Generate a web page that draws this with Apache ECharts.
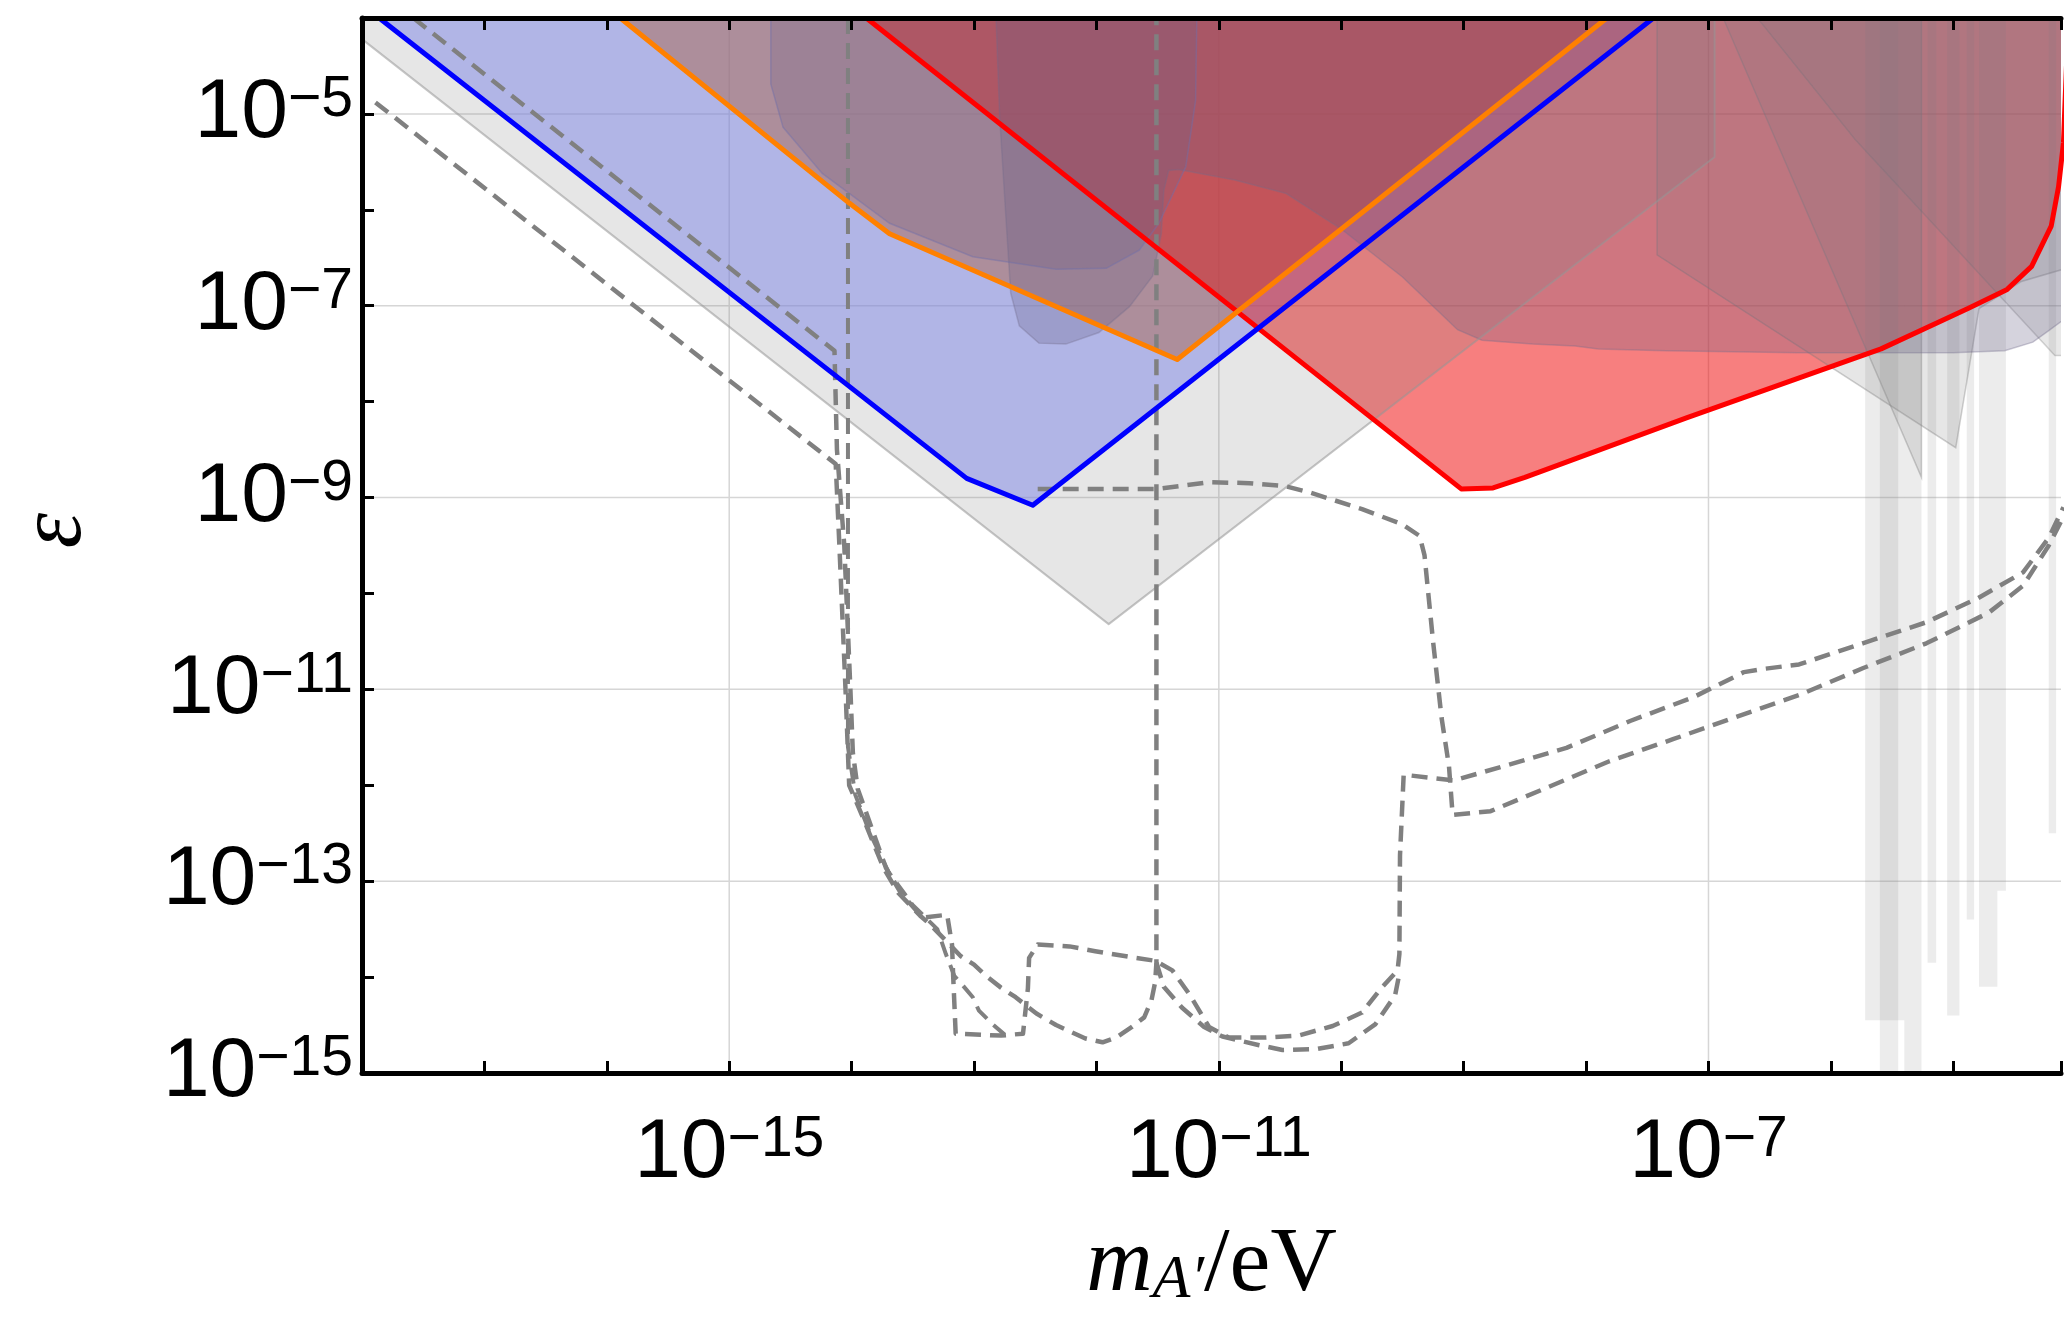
<!DOCTYPE html>
<html>
<head>
<meta charset="utf-8">
<script src="https://cdn.jsdelivr.net/npm/echarts@6/dist/echarts.min.js"></script>
<style>
html,body{margin:0;padding:0;background:#fff;}
#chart{width:2064px;height:1317px;}
</style>
</head>
<body>
<div id="chart"></div>
<script>
// All coordinates are log10 values: x = log10(m_A'/eV), y = log10(epsilon)
const X_MIN = -18, X_MAX = -4.12, Y_MIN = -15, Y_MAX = -4;
const xLabelExps = [-15, -11, -7];
const yLabelExps = [-15, -13, -11, -9, -7, -5];
const xGridExps = [-15, -11, -7];
const yGridExps = [-13, -11, -9, -7, -5];

// light gray wedge (existing bound)
const grayV = [[-18,-4],[-18,-4.22],[-11.9,-10.32],[-6.95,-5.45],[-6.95,-4]];
// other gray bounds at high mass
const grayT1 = [[-6.88,-4],[-5.26,-8.79],[-5.26,-4]];
const grayG4 = [[-7.42,-4],[-7.42,-6.47],[-4.98,-8.48],[-4.79,-7.03],[-4.45,-6.75],[-4.05,-6.6],[-4.05,-4]];
const grayG5 = [[-6.6,-4],[-5.8,-5.27],[-4.17,-7.52],[-4.05,-7.52],[-4.05,-4]];
// narrow vertical gray bounds: [xLeft, xRight, yBottom]
const grayBars = [
  [-5.72,-5.40,-14.45],[-5.60,-5.45,-15],[-5.40,-5.26,-15],[-5.21,-5.14,-13.85],
  [-5.05,-4.95,-14.4],[-4.89,-4.83,-13.4],[-4.79,-4.64,-14.1],[-4.64,-4.57,-13.1],
  [-4.22,-4.16,-12.5]
];
// big gray/purple bound with tongue
const grayTop = [[-12.82,-4],[-12.79,-5.04],[-12.74,-6.07],[-12.70,-6.87],[-12.63,-7.21],[-12.47,-7.39],
  [-12.25,-7.40],[-11.98,-7.28],[-11.73,-7.01],[-11.54,-6.69],[-11.47,-6.25],[-11.45,-5.80],[-11.41,-5.59],
  [-11.33,-5.58],[-10.87,-5.69],[-10.45,-5.83],[-10.0,-6.2],[-9.5,-6.7],[-9.05,-7.25],[-8.85,-7.36],
  [-8.44,-7.40],[-8.09,-7.42],[-7.90,-7.45],[-7.35,-7.47],[-6.27,-7.49],[-5.0,-7.49],[-4.58,-7.47],
  [-4.35,-7.38],[-4.22,-7.26],[-4.05,-7.1],[-4.05,-4]];
// elliptical purple bound
const blob1 = [[-14.66,-4],[-14.66,-4.69],[-14.56,-5.14],[-14.24,-5.62],[-13.69,-6.14],[-13.01,-6.49],
  [-12.33,-6.62],[-11.92,-6.61],[-11.65,-6.42],[-11.49,-6.14],[-11.27,-5.55],[-11.19,-4.86],[-11.18,-4]];

// coloured regions
const redRegion = [[-13.88,-4],[-9.02,-8.91],[-8.76,-8.90],[-8.5,-8.79],[-7.18,-8.17],[-5.59,-7.45],
  [-4.88,-7.03],[-4.56,-6.83],[-4.36,-6.59],[-4.20,-6.17],[-4.14,-5.76],[-4.1,-5.3],[-4.06,-4]];
const blueRegion = [[-17.86,-4],[-13.06,-8.80],[-12.52,-9.08],[-7.45,-4]];
const orangeRegion = [[-15.89,-4],[-14.02,-5.93],[-13.69,-6.25],[-11.34,-7.56],[-7.83,-4]];

// dashed projection curves
const dashA = [[-17.58,-4.0],[-14.14,-7.47],[-14.12,-8.5],[-14.06,-9.5],[-14.01,-11.0],[-13.99,-11.66],
  [-13.95,-12.04],[-13.86,-12.36],[-13.72,-12.86],[-13.60,-13.12],[-13.42,-13.38],[-13.22,-13.35],
  [-13.18,-13.66],[-13.17,-14.0],[-13.15,-14.59],[-12.78,-14.61],[-12.60,-14.59],[-12.56,-14.12],
  [-12.55,-13.8],[-12.48,-13.66],[-12.22,-13.68],[-12.01,-13.73],[-11.68,-13.80],[-11.52,-13.83],
  [-11.38,-13.93],[-11.24,-14.18],[-11.08,-14.52],[-10.92,-14.63],[-10.62,-14.63],[-10.35,-14.61],
  [-10.07,-14.51],[-9.83,-14.37],[-9.67,-14.11],[-9.54,-13.93],[-9.525,-13.76],[-9.52,-12.73],
  [-9.49,-11.89],[-9.08,-11.95],[-8.67,-11.8],[-8.16,-11.61],[-7.64,-11.33],[-7.12,-11.08],
  [-6.71,-10.82],[-6.57,-10.79],[-6.26,-10.74],[-5.74,-10.52],[-5.22,-10.3],[-4.8,-10.05],
  [-4.43,-9.78],[-4.22,-9.42],[-4.1,-9.1]];
const dashB = [[-17.89,-4.88],[-14.13,-8.65],[-14.1,-9.5],[-14.05,-11.0],[-14.02,-12.0],[-13.9,-12.36],
  [-13.74,-12.86],[-13.62,-13.12],[-13.44,-13.36],[-13.36,-13.45],[-13.23,-13.62],[-13.11,-13.78],
  [-13.0,-13.87],[-12.89,-14.0],[-12.78,-14.11],[-12.66,-14.21],[-12.56,-14.31],[-12.49,-14.38],
  [-12.33,-14.50],[-12.21,-14.57],[-12.09,-14.64],[-11.95,-14.68],[-11.84,-14.63],[-11.71,-14.52],
  [-11.61,-14.42],[-11.55,-14.24],[-11.52,-14.05],[-11.51,-13.85],[-11.51,-4.0]];
const dashC = [[-14.03,-4.0],[-14.03,-11.6],[-13.97,-12.1],[-13.85,-12.5],[-13.7,-12.9],[-13.5,-13.25],
  [-13.3,-13.5],[-13.23,-13.76],[-13.16,-13.99],[-13.09,-14.09],[-13.01,-14.21],[-12.96,-14.35],
  [-12.85,-14.49],[-12.75,-14.6]];
const dashD = [[-11.51,-13.85],[-11.45,-14.1],[-11.3,-14.32],[-11.12,-14.52],[-10.97,-14.62],
  [-10.67,-14.71],[-10.48,-14.76],[-10.2,-14.75],[-9.94,-14.69],[-9.72,-14.49],[-9.56,-14.19],[-9.52,-13.93]];
const dashE = [[-12.48,-8.91],[-12.08,-8.91],[-11.5,-8.91],[-11.08,-8.84],[-10.75,-8.85],[-10.46,-8.88],
  [-10.25,-8.95],[-9.83,-9.12],[-9.5,-9.28],[-9.36,-9.4],[-9.32,-9.6],[-9.25,-10.5],[-9.18,-11.3],
  [-9.12,-11.8],[-9.09,-12.31],[-8.78,-12.27],[-8.33,-12.03],[-7.81,-11.75],[-7.29,-11.52],
  [-6.78,-11.29],[-6.26,-11.06],[-5.74,-10.78],[-5.22,-10.52],[-4.71,-10.2],[-4.43,-9.92],
  [-4.22,-9.5],[-4.1,-9.2]];

const FONT_SANS = "'Liberation Sans', Arial, Helvetica, sans-serif";
const FONT_SERIF = "'Liberation Serif', 'Times New Roman', 'DejaVu Serif', serif";

function isInt(v){ return Math.abs(v - Math.round(v)) < 1e-6; }
function expLabel(list){
  return function(v){
    if (!isInt(v)) return '';
    const r = Math.round(v);
    return list.indexOf(r) >= 0 ? '{b|10}{s|\u2212' + Math.abs(r) + '}' : '';
  };
}
const labelRich = {
  b: {fontSize: 84, fontFamily: FONT_SANS, color: '#000', lineHeight: 84},
  s: {fontSize: 57, fontFamily: FONT_SANS, color: '#000', lineHeight: 30, verticalAlign: 'top'}
};

function polySeries(pts, fill, stroke, lw){
  return {
    type: 'custom', clip: true, silent: true, z: 2,
    data: pts,
    encode: {x: 0, y: 1},
    renderItem: function(params, api){
      if (params.dataIndex !== 0) return null;
      return {
        type: 'polygon',
        shape: {points: pts.map(function(p){ return api.coord(p); })},
        style: {fill: fill, stroke: stroke || null, lineWidth: lw || 0}
      };
    }
  };
}
function lineSeries(pts, color, width, dash, z){
  return {
    type: 'line', data: pts, showSymbol: false, symbol: 'none', silent: true,
    clip: true, z: z || 3, animation: false,
    lineStyle: {color: color, width: width, type: dash || 'solid', cap: 'butt', join: 'round'}
  };
}

const series = [];
// grid lines
series.push({
  type: 'custom', silent: true, z: 1, clip: true,
  data: xGridExps.map(function(v){ return [v]; }),
  encode: {x: 0},
  renderItem: function(params, api){
    const a = api.coord([api.value(0), Y_MIN]);
    const b = api.coord([api.value(0), Y_MAX]);
    return {type: 'line', shape: {x1: a[0], y1: a[1], x2: b[0], y2: b[1]},
      style: {stroke: '#d6d6d6', lineWidth: 1.5}};
  }
});
series.push({
  type: 'custom', silent: true, z: 1, clip: true,
  data: yGridExps.map(function(v){ return [X_MIN, v]; }),
  encode: {x: 0, y: 1},
  renderItem: function(params, api){
    const a = api.coord([X_MIN, api.value(1)]);
    const b = api.coord([X_MAX, api.value(1)]);
    return {type: 'line', shape: {x1: a[0], y1: a[1], x2: b[0], y2: b[1]},
      style: {stroke: '#d6d6d6', lineWidth: 1.5}};
  }
});
// coloured fills (drawn first, gray bounds overlay them)
series.push(polySeries(blueRegion, 'rgba(124,134,255,0.5)'));
series.push(polySeries(orangeRegion, 'rgba(180,97,70,0.5)'));
series.push(polySeries(redRegion, 'rgba(240,0,0,0.5)'));
// gray bounds
series.push(polySeries(grayV, 'rgba(128,128,128,0.2)'));
series.push(polySeries(grayT1, 'rgba(128,128,128,0.18)', 'rgba(120,120,120,0.35)', 1.5));
series.push(polySeries(grayG4, 'rgba(128,128,128,0.2)', 'rgba(120,120,120,0.35)', 1.5));
series.push(polySeries(grayG5, 'rgba(128,128,128,0.18)', 'rgba(120,120,120,0.3)', 1.5));
series.push({
  type: 'custom', silent: true, z: 2, clip: true,
  data: grayBars,
  encode: {x: [0, 1], y: 2},
  renderItem: function(params, api){
    const p0 = api.coord([api.value(0), Y_MAX]);
    const p1 = api.coord([api.value(1), api.value(2)]);
    return {type: 'rect', shape: {x: p0[0], y: p0[1], width: p1[0] - p0[0], height: p1[1] - p0[1]},
      style: {fill: 'rgba(128,128,128,0.15)'}};
  }
});
series.push(polySeries(grayTop, 'rgba(105,97,132,0.28)', 'rgba(115,110,140,0.35)', 1.5));
series.push(polySeries(blob1, 'rgba(110,95,135,0.25)', 'rgba(110,110,170,0.45)', 1.5));
// outlines
series.push(lineSeries(grayV, 'rgba(150,150,150,0.55)', 2));
const DASH = [16, 9];
series.push(lineSeries(dashC, '#808080', 4, DASH));
series.push(lineSeries(dashD, '#808080', 4.5, DASH));
series.push(lineSeries(dashB, '#808080', 4.5, DASH));
series.push(lineSeries(dashA, '#808080', 4.5, DASH));
series.push(lineSeries(dashE, '#808080', 4.5, DASH));
series.push(lineSeries(redRegion, '#ff0000', 5, 'solid', 4));
series.push(lineSeries(blueRegion, '#0000ff', 5, 'solid', 4));
series.push(lineSeries(orangeRegion, '#ff8000', 5, 'solid', 4));

const axisLineStyle = {show: true, onZero: false, lineStyle: {color: '#000', width: 5}};
const tickStyle = {show: true, inside: true, length: 12, lineStyle: {color: '#000', width: 3}};

const option = {
  animation: false,
  backgroundColor: '#ffffff',
  grid: {left: 362, top: 18, right: 0, bottom: 238, containLabel: false},
  xAxis: [
    {
      type: 'value', position: 'bottom', min: X_MIN, max: X_MAX, interval: 1, z: 10,
      axisLine: axisLineStyle, axisTick: tickStyle,
      splitLine: {show: false},
      axisLabel: {show: true, margin: 39, formatter: expLabel(xLabelExps), rich: labelRich},
      name: '{i|m}{s|A\u2032}{n|/eV}',
      nameLocation: 'middle', nameGap: 147,
      nameTextStyle: {
        rich: {
          i: {fontSize: 92, fontFamily: FONT_SERIF, fontStyle: 'italic', color: '#000', lineHeight: 92},
          s: {fontSize: 62, fontFamily: FONT_SERIF, fontStyle: 'italic', color: '#000', lineHeight: 44, verticalAlign: 'bottom'},
          n: {fontSize: 92, fontFamily: FONT_SERIF, color: '#000', lineHeight: 92}
        }
      }
    },
    {
      type: 'value', position: 'top', min: X_MIN, max: X_MAX, interval: 1, z: 10,
      axisLine: axisLineStyle, axisTick: tickStyle,
      splitLine: {show: false}, axisLabel: {show: false}
    }
  ],
  yAxis: [
    {
      type: 'value', position: 'left', min: Y_MIN, max: Y_MAX, interval: 1, z: 10,
      axisLine: axisLineStyle, axisTick: tickStyle,
      splitLine: {show: false},
      axisLabel: {show: true, margin: 9, formatter: expLabel(yLabelExps), rich: labelRich},
      name: '\u03b5', nameLocation: 'middle', nameGap: 261, nameRotate: 90,
      nameTextStyle: {fontSize: 90, fontFamily: FONT_SERIF, fontStyle: 'italic', color: '#000',
        padding: [0, 0, 0, 30]}
    }
  ],
  series: series
};

const chart = echarts.init(document.getElementById('chart'), null, {renderer: 'canvas'});
chart.setOption(option);
</script>
</body>
</html>
